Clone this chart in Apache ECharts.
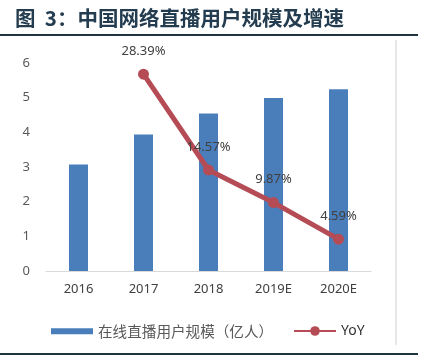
<!DOCTYPE html>
<html><head><meta charset="utf-8">
<script src="https://cdn.jsdelivr.net/npm/echarts@6/dist/echarts.min.js"></script>
<style>html,body{margin:0;padding:0;background:#fff}#c{width:425px;height:355px}</style>
</head><body><div id="c"></div>
<script>
var categories = ['2016', '2017', '2018', '2019E', '2020E'];
var users = [3.07, 3.94, 4.54, 4.99, 5.24];
var yoy = [null, 28.39, 14.57, 9.87, 4.59];
var yTicks = [0, 1, 2, 3, 4, 5, 6];
var barName = '在线直播用户规模（亿人）';
var lineName = 'YoY';

var chart = echarts.init(document.getElementById('c'));
var fontNum = '"Noto Sans", "Noto Sans CJK SC", sans-serif';
var fontCJK = '"Noto Sans CJK SC", sans-serif';
chart.setOption({
  animation: false,
  title: {
    text: '图  3：中国网络直播用户规模及增速',
    left: 10, top: 3,
    textStyle: { fontSize: 20.5, fontWeight: 'bold', color: '#233c4f', fontFamily: fontCJK }
  },
  graphic: [
    { type: 'line', shape: { x1: 0, y1: 35, x2: 418, y2: 35 }, style: { stroke: '#1e3440', lineWidth: 2 } },
    { type: 'line', shape: { x1: 0, y1: 354, x2: 418, y2: 354 }, style: { stroke: '#1e3440', lineWidth: 2 } },
    { type: 'line', shape: { x1: 396, y1: 40, x2: 396, y2: 345 }, style: { stroke: '#d0d0d0', lineWidth: 1 } }
  ],
  legend: [
    {
      data: [barName], left: 46, top: 319, itemWidth: 42, itemHeight: 6,
      icon: 'rect',
      textStyle: { fontSize: 14.6, color: '#595959', fontFamily: fontCJK }
    },
    {
      data: [lineName], left: 288, top: 319, itemWidth: 42, itemHeight: 12,
      textStyle: { fontSize: 14, color: '#333333', fontFamily: fontNum }
    }
  ],
  grid: { left: 46, right: 54, top: 63, bottom: 84 },
  xAxis: {
    type: 'category', data: categories,
    axisLine: { lineStyle: { color: '#d9d9d9' } },
    axisTick: { show: false },
    axisLabel: { margin: 12, fontSize: 13, color: '#404040', fontFamily: fontNum }
  },
  yAxis: [
    {
      type: 'value', min: yTicks[0], max: yTicks[yTicks.length - 1], interval: 1,
      splitLine: { show: false }, axisLine: { show: false }, axisTick: { show: false },
      axisLabel: { margin: 16, fontSize: 13, color: '#595959', fontFamily: fontNum }
    },
    { type: 'value', min: 0, max: 30, show: false, splitLine: { show: false } }
  ],
  series: [
    {
      name: barName, type: 'bar', data: users, barWidth: 19,
      itemStyle: { color: '#4a7ebb' }
    },
    {
      name: lineName, type: 'line', yAxisIndex: 1, data: yoy,
      symbol: 'circle', symbolSize: 11,
      lineStyle: { width: 5, color: '#b54c55' },
      itemStyle: { color: '#b54c55' },
      label: {
        show: true, position: 'top', distance: 11,
        formatter: function (p) { return p.value.toFixed(2) + '%'; },
        fontSize: 13, color: '#404040', fontFamily: fontNum
      }
    }
  ]
});
</script></body></html>
